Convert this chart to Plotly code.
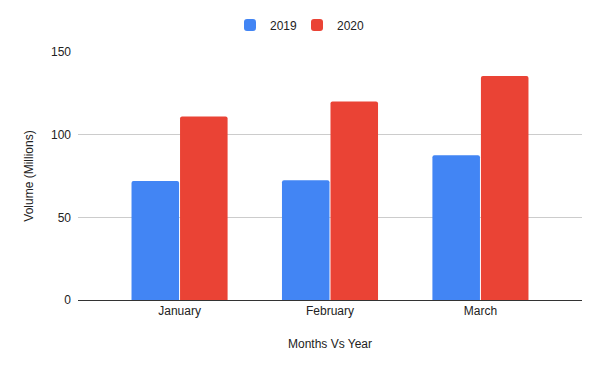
import plotly.graph_objects as go

months = ["January", "February", "March"]
vol_2019 = [72, 72.5, 87.5]
vol_2020 = [111, 120, 135.5]
y_ticks = [0, 50, 100, 150]

font = "Liberation Sans, Arial, sans-serif"

fig = go.Figure()
fig.add_trace(go.Bar(name="2019", x=months, y=vol_2019,
                     marker=dict(color="#4285F4", cornerradius=2, line=dict(width=0))))
fig.add_trace(go.Bar(name="2020", x=months, y=vol_2020,
                     marker=dict(color="#EA4335", cornerradius=2, line=dict(width=0))))

fig.update_layout(
    width=600, height=371,
    margin=dict(l=78, r=18, t=52, b=71, autoexpand=False),
    paper_bgcolor="white", plot_bgcolor="white",
    font=dict(family=font, size=12, color="#222222"),
    barmode="group", bargap=0.355, bargroupgap=0.02,
    showlegend=True,
    legend=dict(orientation="h", xref="container", yref="container",
                x=0.495, xanchor="center", y=1 - 25 / 371, yanchor="middle",
                font=dict(size=12, color="#222222"), itemwidth=30,
                entrywidth=22, entrywidthmode="pixels",
                traceorder="normal"),
    xaxis=dict(range=[-0.675, 2.675], showgrid=False, ticks="", automargin=False,
               showline=True, linecolor="#333333", linewidth=1,
               title=dict(text="Months Vs Year", font=dict(size=12, color="#222222"), standoff=22),
               tickfont=dict(size=12, color="#222222")),
    yaxis=dict(range=[0, 150], tickvals=y_ticks, showgrid=True, gridcolor="#cccccc",
               gridwidth=1, zeroline=True, zerolinecolor="#333333", zerolinewidth=1,
               ticks="", ticklabelstandoff=6, automargin=False,
               title=dict(text="Volume (Millions)", font=dict(size=12, color="#222222"), standoff=14),
               tickfont=dict(size=12, color="#222222")),
)

fig.write_html("out.html", config={"displayModeBar": False},
               post_script="document.body.style.margin='0';")
